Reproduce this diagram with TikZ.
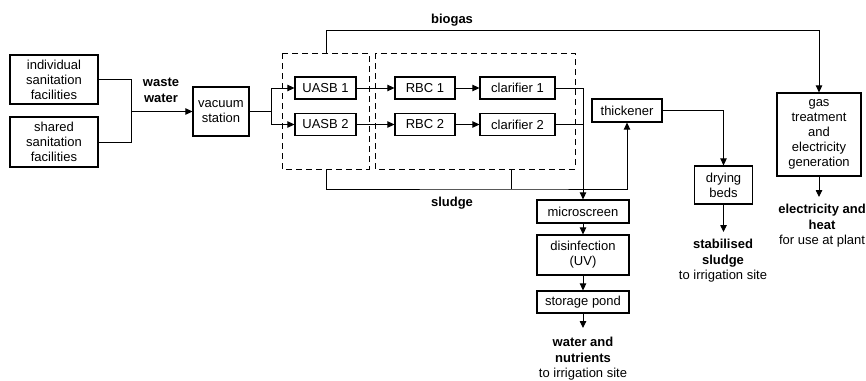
\documentclass[tikz,border=0pt]{standalone}
\usepackage{fontspec}
\setmainfont{Liberation Sans}
\usetikzlibrary{arrows.meta}

\tikzset{
  unit/.style={draw, line width=1.2pt, align=center, inner sep=1pt,
    font=\fontsize{13}{15}\selectfont},
  flow/.style={line width=0.9pt},
  tip/.style={-{Triangle[length=7pt,width=6.5pt]}},
  lbl/.style={align=center, font=\fontsize{13}{15.5}\selectfont},
  group/.style={draw, line width=1pt, dash pattern=on 6pt off 4pt},
}

\begin{document}
\begin{tikzpicture}[x=1pt,y=-1pt]
\useasboundingbox (0,0) rectangle (866,380);

% sources
\node[unit, minimum width=88, minimum height=49] (indiv) at (54,79.5) {individual\\sanitation\\facilities};
\node[unit, minimum width=88, minimum height=50] (shared) at (54,142) {shared\\sanitation\\facilities};
\node[unit, minimum width=56, minimum height=49] (vacuum) at (221,111.5) {vacuum\\station};

% treatment lines
\node[unit, minimum width=61, minimum height=22] (uasbA) at (325.5,88) {UASB 1};
\node[unit, minimum width=61, minimum height=22] (uasbB) at (325.5,124.5) {UASB 2};
\node[unit, minimum width=60, minimum height=22] (rbcA) at (425,88) {RBC 1};
\node[unit, minimum width=60, minimum height=22] (rbcB) at (425,124.5) {RBC 2};
\node[unit, minimum width=75, minimum height=22] (clarA) at (517.5,88) {clarifier 1};
\node[unit, minimum width=75, minimum height=22] (clarB) at (517.5,124.5) {clarifier 2};

\draw[group] (282,53) rectangle (369,169);
\draw[group] (375,53) rectangle (575,169);

% sludge and gas
\node[unit, minimum width=70, minimum height=23] (thick) at (627,110.5) {thickener};
\node[unit, minimum width=58, minimum height=38] (dry) at (723.5,185) {drying\\beds};
\node[unit, minimum width=84, minimum height=83] (gas) at (819,134.5) {gas\\treatment\\and\\electricity\\generation};

% effluent
\node[unit, minimum width=92, minimum height=23] (micro) at (583,211.5) {microscreen};
\node[unit, minimum width=92, minimum height=40] (disinf) at (583,255) {disinfection\\(UV)};
\node[unit, minimum width=92, minimum height=22] (pond) at (583,302) {storage pond};

% labels
\node[lbl, font=\bfseries\fontsize{13}{16}\selectfont] (wwlbl) at (161,90) {waste\\water};
\node[lbl, font=\bfseries\fontsize{13}{15}\selectfont] (gaslbl) at (452,20) {biogas};
\node[lbl, font=\bfseries\fontsize{13}{15}\selectfont] (sllbl) at (452,203) {sludge};
\node[lbl] (watout) at (583,359) {\bfseries water and\\\bfseries nutrients\\to irrigation site};
\node[lbl] (slout) at (723,261) {\bfseries stabilised\\\bfseries sludge\\to irrigation site};
\node[lbl] (elout) at (822,226) {\bfseries electricity and\\\bfseries heat\\for use at plant};

\coordinate (wwjoin) at (131,111.5);
\coordinate (split) at (271,111.5);
\coordinate (effl) at (583,88);
\coordinate (gasup) at (326,53);
\coordinate (slA) at (326,169);
\coordinate (slB) at (511,169);
\coordinate (slbus) at (511,189);
\coordinate (dryend) at (723.5,232);
\coordinate (gasend) at (819,197);
\coordinate (pondend) at (583,328);

\draw[flow] (indiv.east) -| (wwjoin);
\draw[flow] (shared.east) -| (wwjoin);
\draw[flow,tip] (wwjoin) -- (vacuum.west);
\draw[flow] (vacuum.east) -- (split);
\draw[flow,tip] (split) |- (uasbA.west);
\draw[flow,tip] (split) |- (uasbB.west);
\draw[flow,tip] (uasbA) -- (rbcA);
\draw[flow,tip] (uasbB) -- (rbcB);
\draw[flow,tip] (rbcA) -- (clarA);
\draw[flow,tip] (rbcB) -- (clarB);
\draw[flow] (clarA.east) -- (effl);
\draw[flow] (clarB.east) -- (effl |- clarB.east);
\draw[flow,tip] (effl) -- (micro.north);
\draw[flow,tip] (micro) -- (disinf);
\draw[flow,tip] (disinf) -- (pond);
\draw[flow,tip] (pond.south) -- (pondend);

\draw[flow,tip] (gasup) -- ++(0,-23) -| (gas.north);
\draw[flow,tip] (gas.south) -- (gasend);

\draw[flow,tip] (slA) |- (slbus) -| (thick.south);
\draw[flow] (slB) -- (slbus);
\draw[flow,tip] (thick.east) -| (dry.north);
\draw[flow,tip] (dry.south) -- (dryend);
\end{tikzpicture}
\end{document}
